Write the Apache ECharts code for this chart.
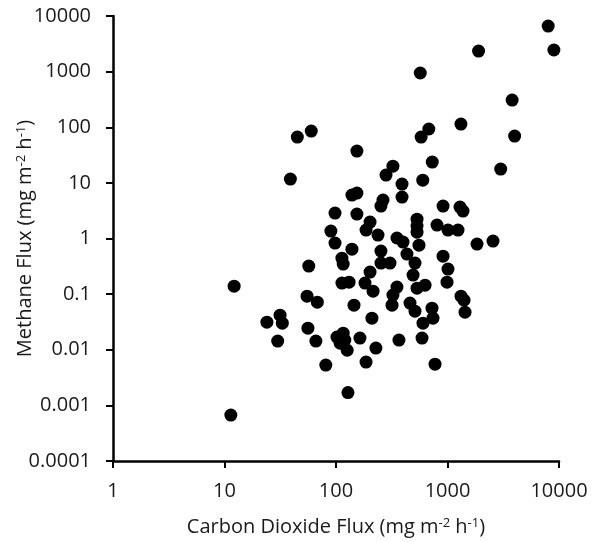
<!DOCTYPE html>
<html>
<head>
<meta charset="utf-8">
<script src="https://cdn.jsdelivr.net/npm/echarts@6/dist/echarts.min.js"></script>
<style>
html,body{margin:0;padding:0;background:#fff;}
#chart{width:592px;height:542px;}
</style>
</head>
<body>
<div id="chart"></div>
<script>
// Carbon dioxide flux (mg m-2 h-1)
const co2Flux = [
  8000, 9000, 1900, 570, 3800, 4000, 1320, 680, 580, 3000,
  730, 600, 154, 45, 60, 39, 324, 281, 391, 391,
  139, 154, 264, 253, 98, 154, 912, 1295, 1377, 202,
  186, 238, 90, 98, 533, 533, 533, 805, 1010, 1243,
  352, 399, 555, 1840, 2560, 139, 253, 253, 305, 433,
  912, 511, 1010, 990, 491, 352, 324, 318, 629, 533,
  461, 511, 726, 741, 603, 1322, 1406, 1436, 367, 591,
  773, 113, 116, 202, 113, 131, 182, 215, 57, 55,
  68, 145, 210, 24, 31.5, 33, 30, 56, 66, 102,
  116, 109, 126, 120, 164, 228, 186, 81, 128, 12.2,
  11.4
];
// Methane flux (mg m-2 h-1)
const ch4Flux = [
  6600, 2450, 2340, 944, 308, 69.5, 114, 93, 66.6, 17.7,
  23.7, 11.2, 37.3, 66.6, 85.5, 11.7, 20.0, 13.8, 9.5, 5.56,
  6.04, 6.56, 4.91, 3.83, 2.87, 2.75, 3.83, 3.67, 3.11, 1.97,
  1.42, 1.15, 1.36, 0.826, 2.23, 1.67, 1.30, 1.74, 1.42, 1.42,
  1.02, 0.861, 0.760, 0.793, 0.898, 0.644, 0.593, 0.361, 0.361, 0.524,
  0.482, 0.361, 0.282, 0.164, 0.220, 0.134, 0.096, 0.0634, 0.145, 0.128,
  0.0689, 0.0494, 0.056, 0.037, 0.030, 0.092, 0.078, 0.0474, 0.0149, 0.0162,
  0.0055, 0.443, 0.347, 0.249, 0.158, 0.164, 0.158, 0.113, 0.319, 0.092,
  0.0718, 0.0634, 0.037, 0.0313, 0.0419, 0.030, 0.0143, 0.0244, 0.0143, 0.0169,
  0.0199, 0.0131, 0.0098, 0.0149, 0.0162, 0.0107, 0.006, 0.0053, 0.0017, 0.139,
  0.00067
];
const xTickLabels = ['1', '10', '100', '1000', '10000'];
const yTickLabels = ['0.0001', '0.001', '0.01', '0.1', '1', '10', '100', '1000', '10000'];

const xName = 'Carbon Dioxide Flux (mg m{sup|-2} h{sup|-1})';
const yName = 'Methane Flux (mg m{sup|-2} h{sup|-1})';

const FONT = 'Open Sans';
const TEXT = '#1a1a1a';
const points = co2Flux.map((x, i) => [x, ch4Flux[i]]);

function labelFor(list, minExp) {
  return function (v) {
    const e = Math.round(Math.log10(v));
    return list[e - minExp] !== undefined ? list[e - minExp] : '';
  };
}

const axisCommon = {
  type: 'log',
  logBase: 10,
  nameLocation: 'middle',
  axisLine: { show: true, onZero: false, lineStyle: { color: '#000', width: 2.5 } },
  axisTick: { show: true, inside: false, length: 7, lineStyle: { color: '#000', width: 2 } },
  splitLine: { show: false },
  minorTick: { show: false },
  minorSplitLine: { show: false }
};

const nameStyle = {
  fontFamily: FONT, fontSize: 20, color: TEXT,
  rich: { sup: { fontFamily: FONT, fontSize: 13, color: TEXT, verticalAlign: 'top', lineHeight: 12 } }
};

const chart = echarts.init(document.getElementById('chart'), null, { renderer: 'canvas' });
chart.setOption({
  backgroundColor: '#ffffff',
  animation: false,
  grid: { left: 113, right: 33, top: 16, bottom: 81, containLabel: false, outerBoundsMode: 'none' },
  xAxis: Object.assign({}, axisCommon, {
    min: 1, max: 10000, splitNumber: 4,
    name: xName,
    nameGap: 56,
    nameTextStyle: nameStyle,
    axisLabel: { formatter: labelFor(xTickLabels, 0), fontFamily: FONT, fontSize: 20, color: TEXT, margin: 20 }
  }),
  yAxis: Object.assign({}, axisCommon, {
    min: 0.0001, max: 10000, splitNumber: 8,
    name: yName,
    nameGap: 78,
    nameMoveOverlap: false,
    nameRotate: 90,
    nameTextStyle: nameStyle,
    axisLabel: { formatter: labelFor(yTickLabels, -4), fontFamily: FONT, fontSize: 20, color: TEXT, margin: 22 }
  }),
  series: [{
    type: 'scatter',
    data: points,
    symbol: 'circle',
    symbolSize: 13,
    itemStyle: { color: '#000', opacity: 1 }
  }]
});
</script>
</body>
</html>
